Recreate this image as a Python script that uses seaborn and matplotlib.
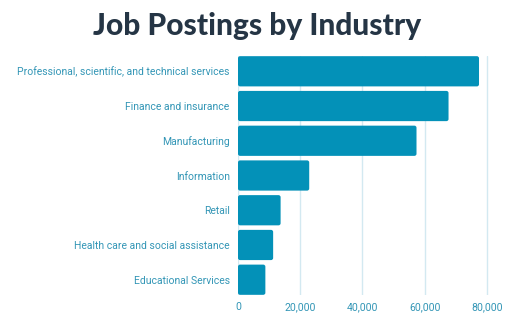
import matplotlib
matplotlib.use("Agg")
import matplotlib.pyplot as plt
from matplotlib.patches import FancyBboxPatch
from matplotlib.ticker import FuncFormatter
import seaborn as sns
import pandas as pd

industries = [
    "Professional, scientific, and technical services",
    "Finance and insurance",
    "Manufacturing",
    "Information",
    "Retail",
    "Health care and social assistance",
    "Educational Services",
]
postings = [77500, 67700, 57400, 22900, 13700, 11300, 8800]
x_ticks = [0, 20000, 40000, 60000, 80000]

df = pd.DataFrame({"industry": industries, "postings": postings})

sns.set_theme(style="white")
plt.rcParams["font.family"] = ["Roboto", "DejaVu Sans"]

bar_color = "#0391b8"
label_color = "#3396b6"
grid_color = "#d3e9f1"

fig = plt.figure(figsize=(5.15, 3.25), dpi=100)
ax = fig.add_axes([238 / 515, 1 - 295 / 325, (493 - 238) / 515, (295 - 56) / 325])

sns.barplot(data=df, x="postings", y="industry", color=bar_color, width=0.87,
            saturation=1, ax=ax, zorder=3)

# rounded corners
for p in list(ax.patches):
    x, y = p.get_x(), p.get_y()
    w, h = p.get_width(), p.get_height()
    fb = FancyBboxPatch((x, y), w, h,
                        boxstyle="round,pad=0,rounding_size=700",
                        mutation_aspect=0.06 / 700,
                        facecolor=bar_color, edgecolor="none", zorder=3)
    p.remove()
    ax.add_patch(fb)

ax.set_xlim(0, 82000)
ax.set_ylim(6.44, -0.44)
ax.set_xticks(x_ticks)
ax.xaxis.set_major_formatter(FuncFormatter(lambda v, _: f"{int(v):,}"))
ax.grid(axis="x", color=grid_color, linewidth=1, zorder=0)
ax.grid(axis="y", visible=False)
for s in ax.spines.values():
    s.set_visible(False)
ax.set_xlabel("")
ax.set_ylabel("")
ax.tick_params(axis="y", length=0, pad=6, labelsize=7.5, labelcolor=label_color)
ax.tick_params(axis="x", length=0, pad=5, labelsize=7.6, labelcolor=label_color)

fig.text(0.5, 1 - 26 / 325, "Job Postings by Industry", ha="center", va="center",
         fontsize=21.5, fontweight="black", color="#253545",
         family=["Lato", "DejaVu Sans"])

fig.savefig("out.png", dpi=100)
